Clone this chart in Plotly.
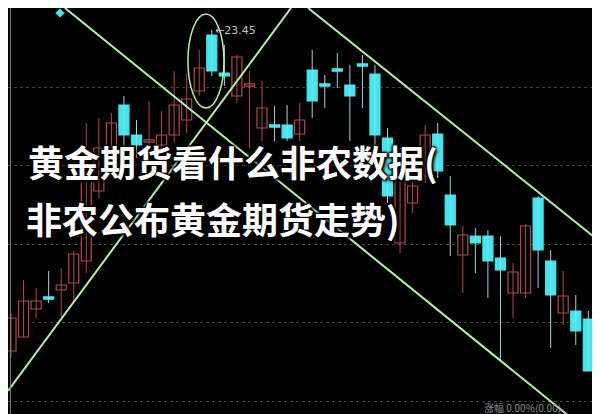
import plotly.graph_objects as go

# ---- data (price units) ----
idx = list(range(48))
opens = [20.24, 20.38, 20.66, 20.79, 20.85, 20.92, 21.14, 21.84, 22.27, 22.70,
         22.40, 22.34, 22.30, 22.40, 22.55, 22.84, 23.40, 23.02, 22.79, 22.90,
         22.47, 22.51, 22.50, 22.41, 23.05, 22.92, 23.07, 22.90, 23.12, 23.01,
         22.37, 21.32, 21.72, 21.99, 22.41, 21.80, 21.20, 21.39, 21.39, 21.17,
         20.82, 20.82, 21.77, 21.14, 20.62, 20.64, 20.56, 19.72]
closes = [20.57, 20.74, 20.74, 20.77, 20.90, 21.21, 22.02, 22.27, 22.52, 22.40,
          22.30, 22.36, 22.40, 22.70, 22.76, 23.07, 23.04, 22.99, 23.18, 22.92,
          22.67, 22.49, 22.37, 22.55, 22.74, 22.90, 23.05, 22.79, 23.10, 22.40,
          21.79, 22.17, 21.89, 22.40, 22.04, 21.50, 21.40, 21.32, 21.14, 21.05,
          21.03, 21.49, 21.25, 20.80, 20.79, 20.44, 20.04, 19.47]
highs = [20.62, 20.95, 20.87, 21.04, 21.07, 21.24, 22.52, 22.57, 22.62, 22.79,
         22.55, 22.74, 22.64, 23.04, 23.02, 23.25, 23.45, 23.30, 23.20, 23.04,
         22.94, 22.69, 22.70, 22.72, 23.25, 23.00, 23.22, 23.10, 23.20, 23.10,
         22.47, 22.27, 21.97, 22.50, 22.52, 21.99, 21.49, 21.47, 21.45, 21.39,
         21.12, 21.51, 21.79, 21.25, 21.04, 20.80, 20.64, 19.80]
lows = [20.17, 20.38, 20.57, 20.72, 20.58, 20.74, 21.02, 21.77, 22.17, 22.27,
        22.17, 22.27, 22.22, 22.32, 22.42, 22.79, 22.99, 22.89, 22.72, 22.27,
        22.34, 22.34, 22.34, 22.34, 22.57, 22.67, 22.87, 22.34, 22.67, 22.27,
        21.72, 21.22, 21.62, 21.92, 21.97, 21.19, 20.82, 21.02, 20.77, 20.15,
        20.57, 20.77, 20.87, 20.27, 20.50, 20.30, 20.04, 19.47]

grid_levels = [22.88, 22.10, 21.31, 20.53, 19.74]

# hand-drawn trend lines (index, price) endpoints
trend_lines = [((4.3, 23.67), (44.94, 19.54)),
               ((23.67, 23.67), (47.57, 21.27)),
               ((-0.24, 19.84), (22.31, 23.67))]
ellipse_box = (14.1, 22.67, 16.97, 23.61)
peak_label = "←23.45"
peak_index = 16

title_line1 = "黄金期货看什么非农数据("
title_line2 = "非农公布黄金期货走势)"
footer_text = "涨幅 0.00%(0.00)"

RED = "#b04a4a"
CYAN = "#40e8f0"
CYAN_WICK = "#a8d0dc"
GREEN = "#b8f0a8"

fig = go.Figure()

# wicks
for is_up, col in ((True, RED), (False, CYAN_WICK)):
    xs, ys = [], []
    for i, o, c, h, l in zip(idx, opens, closes, highs, lows):
        if (c >= o) == is_up:
            xs += [i, i, None]
            ys += [l, h, None]
    fig.add_trace(go.Scatter(x=xs, y=ys, mode="lines",
                             line=dict(color=col, width=1), hoverinfo="skip"))

# bodies
for is_up in (True, False):
    bx, by, bb = [], [], []
    for i, o, c in zip(idx, opens, closes):
        if (c >= o) == is_up:
            bx.append(i)
            by.append(max(abs(c - o), 0.022))
            bb.append(min(o, c) - (0.011 if abs(c - o) < 0.022 else 0))
    fig.add_trace(go.Bar(
        x=bx, y=by, base=bb, width=0.8,
        marker=dict(color="#000000" if is_up else CYAN,
                    line=dict(color=RED if is_up else CYAN, width=1.2)),
        hoverinfo="skip"))

# small marker top-left
fig.add_trace(go.Scatter(x=[3.9], y=[23.62], mode="markers",
                         marker=dict(symbol="diamond", size=7, color=CYAN),
                         hoverinfo="skip"))

for (x0, y0), (x1, y1) in trend_lines:
    fig.add_shape(type="line", x0=x0, y0=y0, x1=x1, y1=y1, xref="x", yref="y",
                  line=dict(color=GREEN, width=2))
ex0, ey0, ex1, ey1 = ellipse_box
fig.add_shape(type="circle", x0=ex0, y0=ey0, x1=ex1, y1=ey1, xref="x", yref="y",
              line=dict(color=GREEN, width=1.5))

fig.add_annotation(x=peak_index + 0.1, y=highs[peak_index], text=peak_label,
                   xanchor="left", yanchor="middle", showarrow=False,
                   font=dict(size=11, color="#c0c0c0", family="DejaVu Sans"))

# frame lines
fig.add_shape(type="line", xref="paper", yref="paper", x0=0.004, x1=0.004, y0=0, y1=1,
              line=dict(color="#808080", width=1))
fig.add_shape(type="line", xref="paper", yref="paper", x0=0.995, x1=0.995, y0=0.66, y1=1,
              line=dict(color="#606060", width=1))

shadow = "2px 2px 3px #000, -1px -1px 2px #000, 1px -1px 2px #000, -1px 1px 2px #000"
fig.add_annotation(xref="paper", yref="paper", x=0.03, y=1 - 153 / 414, text=title_line1,
                   xanchor="left", yanchor="middle", showarrow=False,
                   font=dict(size=36, color="#ffffff", family="Noto Sans CJK SC",
                             weight=700, shadow=shadow))
fig.add_annotation(xref="paper", yref="paper", x=0.026, y=1 - 210 / 414, text=title_line2,
                   xanchor="left", yanchor="middle", showarrow=False,
                   font=dict(size=36, color="#ffffff", family="Noto Sans CJK SC",
                             weight=700, shadow=shadow))
fig.add_annotation(xref="paper", yref="paper", x=0.79, y=0.012, text=footer_text,
                   xanchor="left", yanchor="bottom", showarrow=False,
                   font=dict(size=10, color="#909090", family="Noto Sans CJK SC"))

fig.update_layout(
    width=600, height=414, margin=dict(l=0, r=0, t=0, b=0),
    paper_bgcolor="#000000", plot_bgcolor="#000000",
    showlegend=False, barmode="overlay",
    xaxis=dict(range=[-0.239, 47.57], visible=False, fixedrange=True),
    yaxis=dict(range=[19.53, 23.67], tickvals=grid_levels, showticklabels=False,
               showgrid=True, gridcolor="#4a4040", griddash="dot", gridwidth=1,
               zeroline=False, showline=False, ticks="", fixedrange=True),
)

fig.write_html("out.html")
